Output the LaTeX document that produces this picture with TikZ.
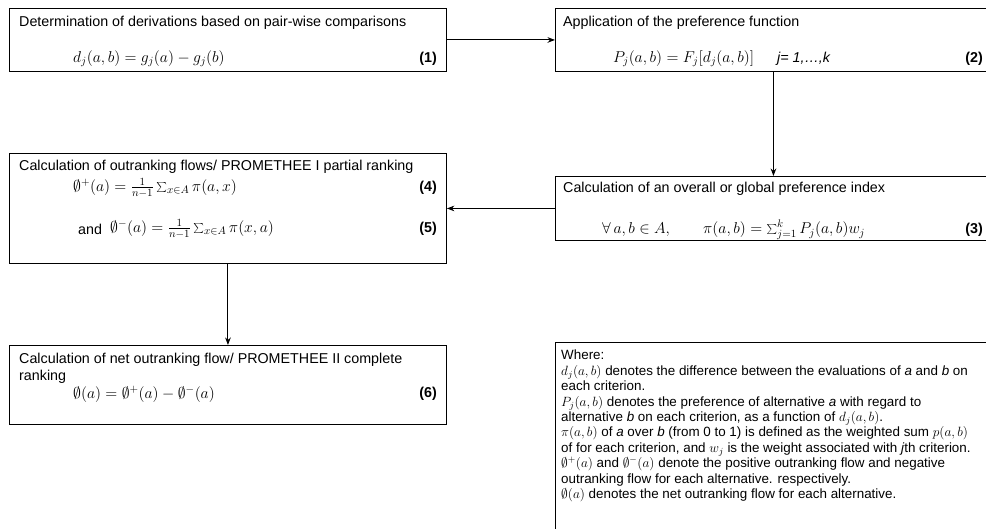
\RequirePackage{fix-cm}
\documentclass[tikz,border=0pt]{standalone}
\usepackage[no-math]{fontspec}
\setmainfont{Liberation Sans}
\usetikzlibrary{arrows.meta}

\tikzset{
  stepbox/.style={draw, line width=0.9pt, inner sep=0pt, anchor=north west},
  steptitle/.style={font=\fontsize{14.3}{16.7}\selectfont, anchor=west, inner sep=0pt, align=left},
  stepeqn/.style={font=\fontsize{15.7}{17}\selectfont, anchor=west, inner sep=0pt},
  stepnum/.style={font=\fontsize{14.3}{16.7}\selectfont\bfseries, anchor=east, inner sep=0pt},
  notetext/.style={font=\fontsize{13.4}{15.4}\selectfont, anchor=north west, inner sep=0pt, align=left},
  flow/.style={->, line width=1pt}
}

\begin{document}
\begin{tikzpicture}[>=Stealth, x=1pt, y=-1pt]

\useasboundingbox (0,0) rectangle (986,528);
\clip (0,0) rectangle (986,528);

% ============================================================
% CAJAS (pasos del método)
% ============================================================

\node[stepbox, minimum width=437pt, minimum height=63pt] (box-deriv) at (9,8) {};
\node[stepbox, minimum width=436pt, minimum height=63pt] (box-pref) at (555,8) {};
\node[stepbox, minimum width=436pt, minimum height=64pt] (box-index) at (555,176) {};
\node[stepbox, minimum width=437pt, minimum height=110pt] (box-flows) at (9,153) {};
\node[stepbox, minimum width=437pt, minimum height=79pt] (box-net) at (9,345) {};
\node[stepbox, minimum width=440pt, minimum height=200pt] (box-where) at (555,342) {};

% ============================================================
% TEXTOS de cada caja
% ============================================================

% Paso 1
\node[steptitle] (t-deriv) at (19,23) {Determination of derivations based on pair-wise comparisons};
\node[stepeqn] (e-deriv) at (73,59) {$d_j(a,b) = g_j(a) - g_j(b)$};
\node[stepnum] (n-deriv) at (437,59) {(1)};

% Paso 2
\node[steptitle] (t-pref) at (563,23) {Application of the preference function};
\node[stepeqn] (e-pref) at (613,59) {$P_j(a,b) = F_j[d_j(a,b)]$};
\node[steptitle] (e-range) at (777,59) {\itshape j= 1,\dots,k};
\node[stepnum] (n-pref) at (983,59) {(2)};

% Paso 3
\node[steptitle] (t-index) at (563,189) {Calculation of an overall or global preference index};
\node[stepeqn] (e-forall) at (602,230) {$\forall\, a,b \in A,$};
\node[stepeqn] (e-index) at (703,230) {$\pi(a,b) = \sum_{j=1}^{k} P_j(a,b)w_j$};
\node[stepnum] (n-index) at (983,230) {(3)};

% Pasos 4 y 5
\node[steptitle] (t-flows) at (19,167) {Calculation of outranking flows/ PROMETHEE I partial ranking};
\node[stepeqn] (e-plus) at (73,188) {$\emptyset^+(a) = \frac{1}{n-1}\sum_{x\in A}\pi(a,x)$};
\node[stepnum] (n-plus) at (437,188) {(4)};
\node[steptitle] (t-and) at (78,229) {and};
\node[stepeqn] (e-minus) at (110,229) {$\emptyset^-(a) = \frac{1}{n-1}\sum_{x\in A}\pi(x,a)$};
\node[stepnum] (n-minus) at (437,229) {(5)};

% Paso 6
\node[steptitle] (t-net) at (19,368) {Calculation of net outranking flow/ PROMETHEE II complete\\ranking};
\node[stepeqn] (e-net) at (73,394) {$\emptyset(a) = \emptyset^+(a) - \emptyset^-(a)$};
\node[stepnum] (n-net) at (437,394) {(6)};

% Leyenda
\node[notetext] (t-where) at (561,350) {Where:\\
$d_j(a,b)$ denotes the difference between the evaluations of \textit{a} and \textit{b} on\\
each criterion.\\
$P_j(a,b)$ denotes the preference of alternative \textit{a} with regard to\\
alternative \textit{b} on each criterion, as a function of $d_j(a,b)$.\\
$\pi(a,b)$ of \textit{a} over \textit{b} (from 0 to 1) is defined as the weighted sum $p(a,b)$\\
of for each criterion, and $w_j$ is the weight associated with \textit{j}th criterion.\\
$\emptyset^+(a)$ and $\emptyset^-(a)$ denote the positive outranking flow and negative\\
outranking flow for each alternative. respectively.\\
$\emptyset(a)$ denotes the net outranking flow for each alternative.};

% ============================================================
% FLECHAS entre pasos
% ============================================================

\draw[flow] (box-deriv.east) -- (box-pref.west);
\draw[flow] (box-pref.south) -- (box-index.north);
\draw[flow] (box-index.west) -- (box-index.west -| box-flows.east);
\draw[flow] (box-flows.south) -- (box-net.north);

\end{tikzpicture}
\end{document}
